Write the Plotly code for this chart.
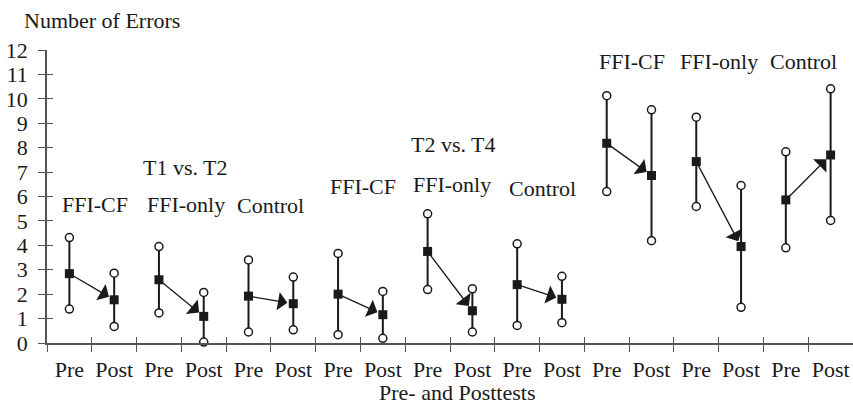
import plotly.graph_objects as go

# ---- data ----
tests = ["Pre", "Post"]
groups = ["FFI-CF", "FFI-only", "Control"]
comparisons = ["T1 vs. T2", "T2 vs. T4", "T1 vs. T4"]

pre_mean  = [2.84, 2.59, 1.92, 2.00, 3.75, 2.39, 8.18, 7.43, 5.86]
pre_upper = [4.32, 3.95, 3.40, 3.67, 5.29, 4.06, 10.13, 9.25, 7.83]
pre_lower = [1.39, 1.23, 0.45, 0.34, 2.19, 0.72, 6.20, 5.59, 3.90]
post_mean  = [1.77, 1.09, 1.61, 1.16, 1.32, 1.79, 6.86, 3.95, 7.70]
post_upper = [2.86, 2.07, 2.70, 2.11, 2.22, 2.73, 9.55, 6.45, 10.41]
post_lower = [0.68, 0.04, 0.54, 0.19, 0.45, 0.83, 4.19, 1.46, 5.02]

# label placement (data coords)
group_label_x = [0.58, 2.61, 4.49, 6.55, 8.55, 10.57, 12.57, 14.5, 16.4]
group_label_y = [5.66, 5.66, 5.62, 6.40, 6.48, 6.31, 11.51, 11.51, 11.51]
comp_label_x = [2.60, 8.58, 14.62]
comp_label_y = [7.17, 8.11, 13.02]

FONT = "Liberation Serif"
INK = "#1a1a1a"
AXIS = "#555555"
FS = 22

W, H = 853, 405
L, R, T, B = 47, 0, 50, 62
pw, ph = W - L - R, H - T - B

n_slots = 2 * len(pre_mean)
centers = list(range(n_slots))
labels = [tests[i % 2] for i in centers]
bounds = [i - 0.5 for i in range(n_slots + 1)]

xs_mean, ys_mean, xs_ends, ys_ends, lx, ly = [], [], [], [], [], []
for i in range(len(pre_mean)):
    for k, (m, u, l) in enumerate([(pre_mean[i], pre_upper[i], pre_lower[i]),
                                   (post_mean[i], post_upper[i], post_lower[i])]):
        x = 2 * i + k
        xs_mean.append(x); ys_mean.append(m)
        xs_ends += [x, x]; ys_ends += [u, l]
        lx += [x, x, None]; ly += [l, u, None]

fig = go.Figure()
fig.add_trace(go.Scatter(x=lx, y=ly, mode="lines", line=dict(color=INK, width=2),
                         hoverinfo="skip", showlegend=False, cliponaxis=False))
fig.add_trace(go.Scatter(x=xs_ends, y=ys_ends, mode="markers",
                         marker=dict(symbol="circle", size=8, color="white",
                                     line=dict(color=INK, width=1.5)),
                         showlegend=False, cliponaxis=False))
fig.add_trace(go.Scatter(x=xs_mean, y=ys_mean, mode="markers",
                         marker=dict(symbol="square", size=9, color=INK,
                                     line=dict(width=0)),
                         showlegend=False, cliponaxis=False))
# invisible trace for overlay axes (inside tick halves)
fig.add_trace(go.Scatter(x=[0], y=[0], xaxis="x2", yaxis="y2", mode="markers",
                         marker=dict(opacity=0), showlegend=False, hoverinfo="skip"))

tfont = dict(family=FONT, size=FS, color=INK)
annotations = []
for i in range(len(pre_mean)):
    annotations.append(dict(x=2 * i + 1, y=post_mean[i], ax=2 * i, ay=pre_mean[i],
                            xref="x", yref="y", axref="x", ayref="y",
                            showarrow=True, arrowhead=1, arrowsize=2.4,
                            arrowwidth=1.3, arrowcolor=INK, standoff=6, text=""))
for i, g in enumerate(groups * len(comparisons)):
    annotations.append(dict(x=group_label_x[i], y=group_label_y[i], text=g,
                            xref="x", yref="y", showarrow=False, font=tfont,
                            xanchor="center", yanchor="middle"))
for i, c in enumerate(comparisons):
    annotations.append(dict(x=comp_label_x[i], y=comp_label_y[i], text=c,
                            xref="x", yref="y", showarrow=False, font=tfont,
                            xanchor="center", yanchor="middle"))
annotations.append(dict(x=(102 - L) / pw, y=(H - B - 20) / ph, xref="paper", yref="paper",
                        text="Number of Errors", showarrow=False, font=tfont,
                        xanchor="center", yanchor="middle"))
annotations.append(dict(x=(457 - L) / pw, y=(H - B - 392) / ph, xref="paper", yref="paper",
                        text="Pre- and Posttests", showarrow=False, font=tfont,
                        xanchor="center", yanchor="middle"))

xr = [-0.5, n_slots - 0.5]
yr = [0, 12]
fig.update_layout(
    width=W, height=H, margin=dict(l=L, r=R, t=T, b=B, autoexpand=False),
    paper_bgcolor="white", plot_bgcolor="white",
    font=tfont,
    annotations=annotations,
    xaxis=dict(range=xr, tickmode="array", tickvals=centers, ticktext=labels,
               ticks="", showline=True, linecolor=AXIS, linewidth=1.5, automargin=False,
               showgrid=False, zeroline=False, ticklabelstandoff=6,
               minor=dict(tickmode="array", tickvals=bounds, ticks="outside",
                          ticklen=7, tickwidth=1.3, tickcolor=AXIS, showgrid=False),
               tickfont=tfont),
    xaxis2=dict(range=xr, overlaying="x", anchor="y", tickmode="array", tickvals=bounds,
                ticks="inside", ticklen=6, tickwidth=1.3, tickcolor=AXIS, automargin=False,
                showticklabels=False, showline=False, showgrid=False, zeroline=False),
    yaxis=dict(range=yr, tickmode="array", tickvals=list(range(13)),
               ticks="outside", ticklen=7, tickwidth=1.3, tickcolor=AXIS, automargin=False,
               showline=True, linecolor=AXIS, linewidth=1.5,
               showgrid=False, zeroline=False, ticklabelstandoff=6,
               tickfont=tfont),
    yaxis2=dict(range=yr, overlaying="y", anchor="x", tickmode="array",
                tickvals=list(range(13)), ticks="inside", ticklen=6, tickwidth=1.3,
                tickcolor=AXIS, showticklabels=False, showline=False, automargin=False,
                showgrid=False, zeroline=False),
)
fig.write_html("out.html", config={"displayModeBar": False},
               post_script="document.body.style.margin='0';document.body.style.overflow='hidden';")
